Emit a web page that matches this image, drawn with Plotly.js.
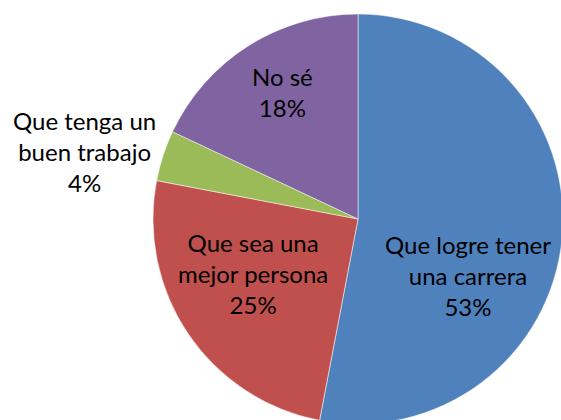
<!DOCTYPE html>
<html>
<head>
<meta charset="utf-8">
<script src="https://cdn.plot.ly/plotly-3.0.1.min.js"></script>
<style>
html,body{margin:0;padding:0;overflow:hidden;background:#fff;}
#chart{width:570px;height:430px;}
</style>
</head>
<body>
<div id="chart"></div>
<script>
// Data
const categories = ["Que logre tener una carrera", "Que sea una mejor persona", "Que tenga un buen trabajo", "No sé"];
const labelLines = [["Que logre tener", "una carrera"], ["Que sea una", "mejor persona"], ["Que tenga un", "buen trabajo"], ["No sé"]];
const values = [53, 25, 4, 18];

// Styles / layout
const colors = ["#4F81BD", "#C0504D", "#9BBB59", "#8064A2"];
const labelPos = [[0.821, 0.360], [0.444, 0.365], [0.149, 0.647], [0.495, 0.786]]; // paper coords

const W = 570, H = 430;
const annotations = categories.map((c, i) => ({
  x: labelPos[i][0], y: labelPos[i][1], xref: "paper", yref: "paper",
  xanchor: "center", yanchor: "middle", showarrow: false, align: "center",
  text: labelLines[i].join("<br>") + "<br>" + values[i] + "%",
  font: {family: "Lato, 'Open Sans', sans-serif", size: 24, color: "#000"}
}));

Plotly.newPlot("chart", [{
  type: "pie",
  labels: categories,
  values: values,
  sort: false,
  direction: "clockwise",
  rotation: 0,
  marker: {colors: colors, line: {color: "#ffffff", width: 0.5}},
  textinfo: "none",
  hoverinfo: "label+percent",
  domain: {x: [153/W, 563/W], y: [(H-424)/H, (H-14)/H]},
  showlegend: false
}], {
  width: W, height: H,
  margin: {l: 0, r: 0, t: 0, b: 0},
  paper_bgcolor: "#fff",
  showlegend: false,
  annotations: annotations
}, {displayModeBar: false, staticPlot: true});
</script>
</body>
</html>
